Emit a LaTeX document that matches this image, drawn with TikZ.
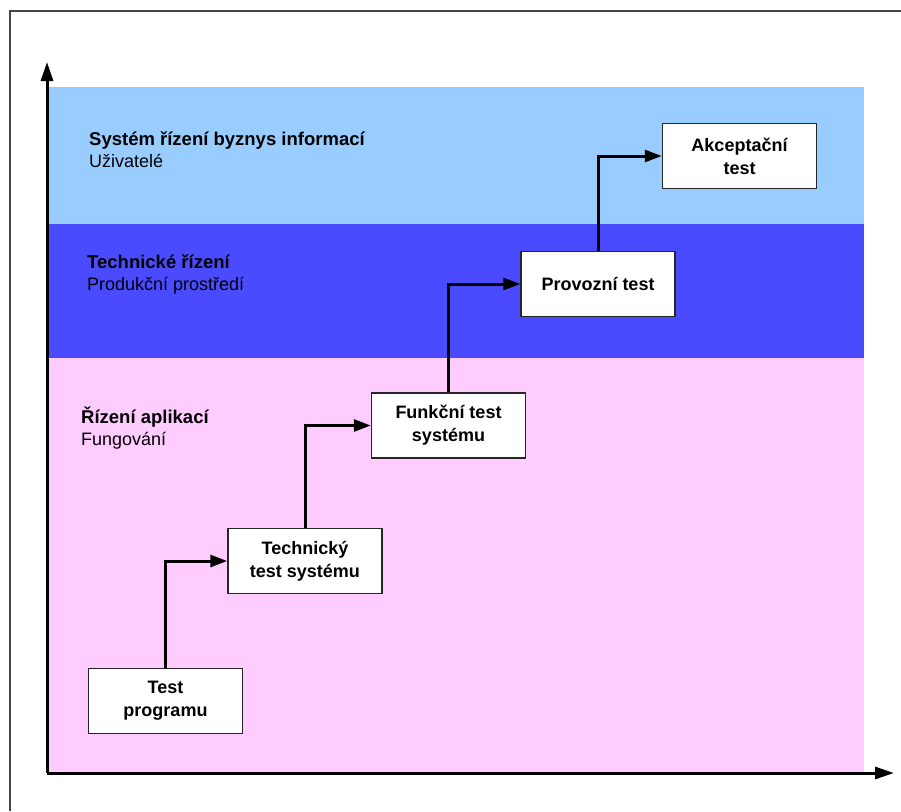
\documentclass[tikz,border=0pt]{standalone}
\usepackage{fontspec}
\setmainfont{Liberation Sans}
\usetikzlibrary{arrows.meta}
\definecolor{bandtop}{RGB}{153,204,255}
\definecolor{bandmid}{RGB}{74,74,255}
\definecolor{bandlow}{RGB}{255,204,255}
\definecolor{framegray}{RGB}{70,70,70}
\tikzset{
  stage/.style={draw=black!85, line width=1.5pt, fill=white, minimum width=154pt,
    minimum height=65pt, inner sep=0pt, align=center, font=\fontsize{18}{23}\selectfont\bfseries},
  conn/.style={line width=3pt, -{Triangle[length=17pt,width=12pt]}},
  axis/.style={line width=3pt, -{Triangle[length=19pt,width=12pt]}},
  bandtitle/.style={anchor=base west, inner sep=0pt, font=\fontsize{18.5}{22}\selectfont\bfseries},
  bandsub/.style={anchor=base west, inner sep=0pt, font=\fontsize{18}{22}\selectfont}
}
\begin{document}
\begin{tikzpicture}[x=1pt, y=-1pt]
\useasboundingbox (0,0) rectangle (901,811);
\fill[white] (0,0) rectangle (901,811);
% outer frame (open to the right and bottom)
\draw[framegray, line width=1.5pt] (10,811) -- (10,11) -- (901,11);
% horizontal bands
\fill[bandtop] (48,87) rectangle (864,224);
\fill[bandmid] (48,224) rectangle (864,358);
\fill[bandlow] (48,358) rectangle (864,773);
% axes
\coordinate (origin) at (47,773);
\coordinate (ytip) at (47,62);
\coordinate (xtip) at (894,773);
\draw[axis] (origin) -- (ytip);
\draw[axis] (origin) -- (xtip);
% band labels
\node[bandtitle] (t1) at (89,145) {Systém řízení byznys informací};
\node[bandsub] (s1) at (89,167) {Uživatelé};
\node[bandtitle] (t2) at (87,268) {Technické řízení};
\node[bandsub] (s2) at (87,290) {Produkční prostředí};
\node[bandtitle] (t3) at (81,423) {Řízení aplikací};
\node[bandsub] (s3) at (81,445) {Fungování};
% test stages
\node[stage] (p1) at (165.5,701) {Test\\programu};
\node[stage] (p2) at (305,561) {Technický\\test systému};
\node[stage] (p3) at (448.5,425.5) {Funkční test\\systému};
\node[stage] (p4) at (598,284) {Provozní test};
\node[stage] (p5) at (739.5,156) {Akceptační\\test};
% step connectors
\draw[conn] (p1.north) |- (p2.west);
\draw[conn] (p2.north) |- (p3.west);
\draw[conn] (p3.north) |- (p4.west);
\draw[conn] (p4.north) |- (p5.west);
\end{tikzpicture}
\end{document}
